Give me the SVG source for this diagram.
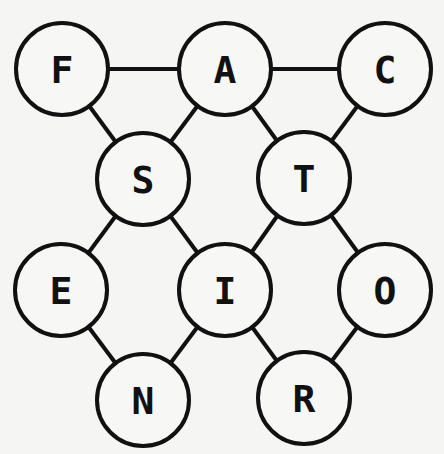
<svg xmlns="http://www.w3.org/2000/svg" width="444" height="454" viewBox="0 0 444 454">
<style>
.n circle{fill:#f7f7f5;stroke:#111;stroke-width:4}
.n text{font-family:"DejaVu Sans Mono","Liberation Mono",monospace;font-size:38px;font-weight:bold;fill:#111;text-anchor:middle;dominant-baseline:central}
.e line{stroke:#111;stroke-width:4}
</style>
<rect width="444" height="454" fill="#f5f5f3"/>
<g id="edges" class="e">
<line x1="62" y1="69" x2="225" y2="69"/>
<line x1="225" y1="69" x2="385" y2="69"/>
<line x1="62" y1="69" x2="143" y2="179"/>
<line x1="225" y1="69" x2="143" y2="179"/>
<line x1="225" y1="69" x2="304" y2="178"/>
<line x1="385" y1="69" x2="304" y2="178"/>
<line x1="143" y1="179" x2="61" y2="290"/>
<line x1="143" y1="179" x2="225" y2="290"/>
<line x1="304" y1="178" x2="225" y2="290"/>
<line x1="304" y1="178" x2="385" y2="290"/>
<line x1="61" y1="290" x2="143" y2="400"/>
<line x1="225" y1="290" x2="143" y2="400"/>
<line x1="225" y1="290" x2="304" y2="398"/>
<line x1="385" y1="290" x2="304" y2="398"/>
</g>
<g id="F" class="n"><circle cx="62" cy="69" r="46"/><text x="62" y="70">F</text></g>
<g id="A" class="n"><circle cx="225" cy="69" r="46"/><text x="225" y="70">A</text></g>
<g id="C" class="n"><circle cx="385" cy="69" r="46"/><text x="385" y="70">C</text></g>
<g id="S" class="n"><circle cx="143" cy="179" r="46"/><text x="143" y="180">S</text></g>
<g id="T" class="n"><circle cx="304" cy="178" r="46"/><text x="304" y="179">T</text></g>
<g id="E" class="n"><circle cx="61" cy="290" r="46"/><text x="61" y="291">E</text></g>
<g id="I" class="n"><circle cx="225" cy="290" r="46"/><text x="225" y="291">I</text></g>
<g id="O" class="n"><circle cx="385" cy="290" r="46"/><text x="385" y="291">O</text></g>
<g id="N" class="n"><circle cx="143" cy="400" r="46"/><text x="143" y="401">N</text></g>
<g id="R" class="n"><circle cx="304" cy="398" r="46"/><text x="304" y="399">R</text></g>
</svg>
